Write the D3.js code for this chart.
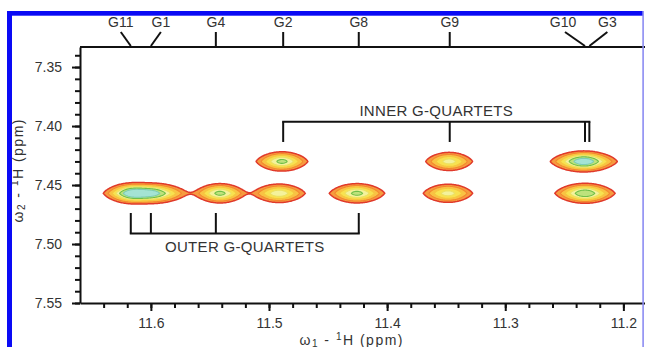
<!DOCTYPE html>
<html>
<head>
<meta charset="utf-8">
<script src="https://cdn.jsdelivr.net/npm/d3@7"></script>
<style>
  body { margin: 0; background: #fff; }
  svg { display: block; font-family: "Liberation Sans", Arial, sans-serif; }
  .axis text { font-size: 14px; fill: #333; }
  .axis path, .axis line { stroke: #111; stroke-width: 2; }
  .mark { stroke: #111; stroke-width: 2; fill: none; }
  .note { font-size: 15px; fill: #333; text-anchor: middle; letter-spacing: 0.3px; }
</style>
</head>
<body>
<svg id="chart" width="645" height="347"></svg>
<script>
// residues assigned along the imino (w1) axis
const residues = ['G11', 'G1', 'G4', 'G2', 'G8', 'G9', 'G10', 'G3'];
const iminoShifts = [11.617, 11.600, 11.545, 11.488, 11.424, 11.347, 11.2325, 11.2288];

// cross peaks (ppm), relative heights, w1 linewidths
const peakW1 = [11.616, 11.598, 11.5415, 11.4915, 11.4255, 11.3485, 11.2325, 11.489, 11.3475, 11.2335];
const peakW2 = [7.457, 7.457, 7.457, 7.457, 7.457, 7.457, 7.457, 7.430, 7.430, 7.430];
const peakHeight = [0.75, 0.70, 0.60, 0.50, 0.60, 0.46, 0.70, 0.60, 0.46, 0.90];
const peakWidth1 = [0.0155, 0.019, 0.0148, 0.0158, 0.016, 0.0152, 0.0168, 0.015, 0.0145, 0.0178];
const peakWidth2 = 0.0056;

const innerGroup = ['G2', 'G9', 'G10', 'G3'];
const outerGroup = ['G11', 'G1', 'G4', 'G8'];

const yMajor = [7.35, 7.40, 7.45, 7.50, 7.55];
const xMajor = [11.6, 11.5, 11.4, 11.3, 11.2];
const levels = [0.07, 0.15, 0.26, 0.4, 0.55, 0.72];

const fills = ['#f69b3f', '#f9c244', '#f8e250', '#f4f29c', '#bde27c', '#a4e3d4'];
const strokes = ['#e0392a', '#f4872f', '#f5c73f', '#ece163', '#6fbf49', '#7dcdb2'];

const svg = d3.select('#chart');

const x = d3.scaleLinear().domain([11.66, 11.18]).range([80, 647]);
const y = d3.scaleLinear().domain([7.333, 7.55]).range([47, 303]);

svg.append('defs').append('clipPath').attr('id', 'plot')
  .append('rect').attr('x', 80).attr('y', 47).attr('width', 567).attr('height', 256);

// spectrum surface from the peak list, then contours
const step1 = 0.0008, step2 = 0.0004;
const w1Start = x.domain()[0], w2Start = y.domain()[0];
const n = Math.ceil((x.domain()[0] - x.domain()[1]) / step1) + 1;
const m = Math.ceil((y.domain()[1] - y.domain()[0]) / step2) + 1;
const values = new Float64Array(n * m);
for (let j = 0; j < m; j++) {
  const w2 = w2Start + j * step2;
  for (let i = 0; i < n; i++) {
    const w1 = w1Start - i * step1;
    let s = 0;
    for (let k = 0; k < peakW1.length; k++) {
      const u = (w1 - peakW1[k]) / peakWidth1[k];
      const v = (w2 - peakW2[k]) / peakWidth2;
      if (Math.abs(u) > 5 || Math.abs(v) > 5) continue;
      // half lens, half ellipse: pointed ends along w1
      const r = ((Math.abs(v) + Math.sqrt(v * v + 4 * u * u)) / 2 + Math.sqrt(u * u + v * v)) / 2;
      s += peakHeight[k] * Math.exp(-r * r);
    }
    values[j * n + i] = s;
  }
}

const contours = d3.contours().size([n, m]).thresholds(levels)(values);
const proj = d3.geoTransform({
  point(px, py) {
    this.stream.point(x(w1Start - (px - 0.5) * step1), y(w2Start + (py - 0.5) * step2));
  }
});
const path = d3.geoPath(proj);

svg.append('g').attr('clip-path', 'url(#plot)')
  .selectAll('path')
  .data(contours)
  .join('path')
  .attr('d', path)
  .attr('fill', (d, i) => fills[i])
  .attr('stroke', (d, i) => strokes[i])
  .attr('stroke-width', (d, i) => i === 0 ? 1.5 : 1.1);

// axes
svg.append('g').attr('class', 'axis').attr('transform', 'translate(80,0)')
  .call(d3.axisLeft(y).tickValues(yMajor).tickFormat(d3.format('.2f')).tickSize(8).tickSizeOuter(0).tickPadding(10));
svg.append('g').attr('class', 'axis').attr('transform', 'translate(80,0)')
  .call(d3.axisLeft(y).tickValues(d3.range(734, 756).map(d => d / 100)).tickFormat('').tickSize(5))
  .select('.domain').remove();

svg.append('g').attr('class', 'axis').attr('transform', 'translate(0,303)')
  .call(d3.axisBottom(x).tickValues(xMajor).tickFormat(d3.format('.1f')).tickSize(8).tickSizeOuter(0).tickPadding(7));
svg.append('g').attr('class', 'axis').attr('transform', 'translate(0,303)')
  .call(d3.axisBottom(x).tickValues(d3.range(1118, 1166, 2).map(d => d / 100)).tickFormat('').tickSize(5))
  .select('.domain').remove();

svg.append('line').attr('class', 'mark')
  .attr('x1', 80).attr('x2', 647).attr('y1', 47).attr('y2', 47);

// residue markers on the top axis
const nudge = { G11: -10, G1: 10, G10: -20, G3: 18 };
const shiftOf = r => iminoShifts[residues.indexOf(r)];
const topMarks = svg.append('g');
residues.forEach(r => {
  const px = x(shiftOf(r));
  const lx = px + (nudge[r] || 0);
  topMarks.append('line').attr('class', 'mark')
    .attr('x1', lx).attr('y1', 32).attr('x2', px).attr('y2', 46);
  topMarks.append('text').attr('x', lx + (r === 'G10' ? -2 : 0)).attr('y', 26.7)
    .attr('text-anchor', 'middle').style('font-size', '14px').attr('fill', '#333').text(r);
});

// quartet brackets
function bracket(group, barW2, endW2, label, labelW2) {
  const xs = group.map(shiftOf);
  const g = svg.append('g');
  g.append('line').attr('class', 'mark')
    .attr('x1', x(d3.max(xs)) - 1).attr('x2', x(d3.min(xs)) + 1)
    .attr('y1', y(barW2)).attr('y2', y(barW2));
  xs.forEach(s => {
    g.append('line').attr('class', 'mark')
      .attr('x1', x(s)).attr('x2', x(s)).attr('y1', y(barW2)).attr('y2', y(endW2));
  });
  g.append('text').attr('class', 'note')
    .attr('x', (x(d3.max(xs)) + x(d3.min(xs))) / 2).attr('y', y(labelW2)).text(label);
}
bracket(innerGroup, 7.3963, 7.4135, 'INNER G-QUARTETS', 7.3912);
bracket(outerGroup, 7.491, 7.4737, 'OUTER G-QUARTETS', 7.5064);

// axis titles
function axisTitle(sel, sub) {
  sel.append('tspan').text('ω');
  sel.append('tspan').style('font-size', '10px').attr('dy', 2).text(sub);
  sel.append('tspan').attr('dy', -2).text(' - ');
  sel.append('tspan').style('font-size', '10px').attr('dy', -5).text('1');
  sel.append('tspan').attr('dy', 5).text('H  (ppm)');
}
svg.append('text').attr('transform', 'translate(23,171) rotate(-90)')
  .attr('text-anchor', 'middle').style('font-size', '14px').attr('fill', '#333')
  .attr('textLength', 103).attr('lengthAdjust', 'spacing')
  .call(axisTitle, '2');

svg.append('text').attr('transform', 'translate(351,344.5)')
  .attr('text-anchor', 'middle').style('font-size', '14px').attr('fill', '#333')
  .attr('textLength', 103).attr('lengthAdjust', 'spacing')
  .call(axisTitle, '1');

// blue frame of the figure panel
svg.append('rect').attr('x', 7).attr('y', 11).attr('width', 636).attr('height', 4.7).attr('fill', '#0a0af5');
svg.append('rect').attr('x', 7).attr('y', 11).attr('width', 5).attr('height', 336).attr('fill', '#0a0af5');
svg.append('rect').attr('x', 642.3).attr('y', 11).attr('width', 1.6).attr('height', 336).attr('fill', '#8c8cf2');
</script>
</body>
</html>
